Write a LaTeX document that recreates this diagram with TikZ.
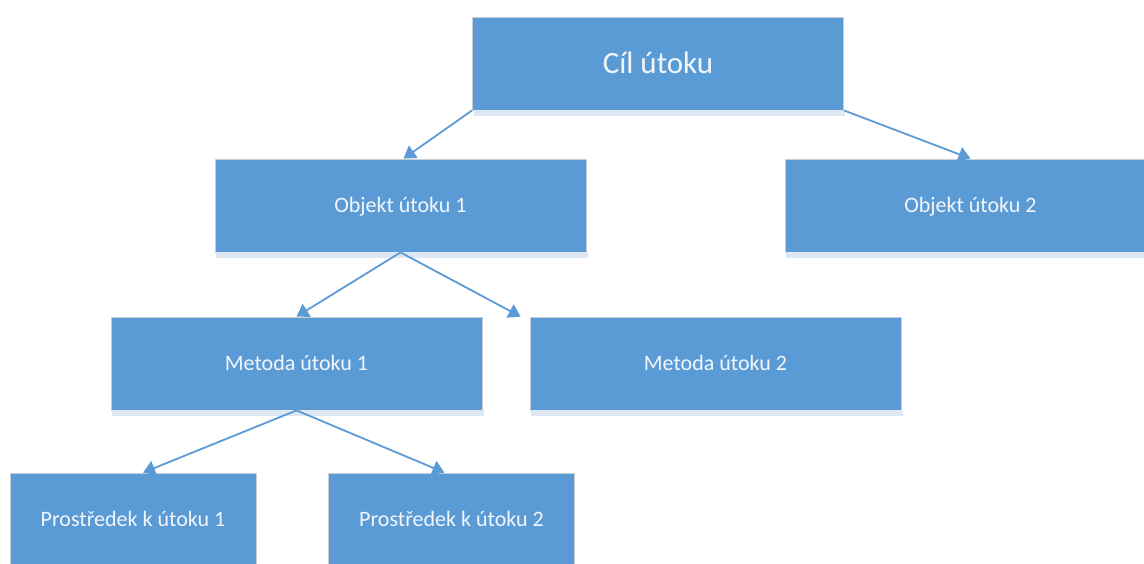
\documentclass[tikz,border=0pt]{standalone}
\usepackage{fontspec}
\setmainfont{Carlito}
\usetikzlibrary{arrows.meta,calc}
\definecolor{boxblue}{HTML}{5B9BD5}
\definecolor{boxedge}{HTML}{C9CED4}
\definecolor{boxshade}{HTML}{DDE8F4}
\definecolor{boxtext}{HTML}{F2F6FB}
\tikzset{
  box/.style={rectangle, fill=boxblue, draw=boxedge, line width=0.8pt,
    minimum height=93pt, inner sep=0pt, text=boxtext,
    font=\fontsize{22}{26}\selectfont, text height=14.2pt, text depth=0pt},
  wide/.style={box, minimum width=371pt},
  narrow/.style={box, minimum width=246pt},
  title/.style={font=\fontsize{31}{36}\selectfont, text height=20pt},
  link/.style={draw=boxblue, line width=1.8pt,
    -{Triangle[width=15pt,length=12pt]}}
}
\newcommand{\boxstrip}[1]{%
  \fill[boxshade] ($(#1.south west)+(1.5,0)$) rectangle ($(#1.south east)+(1.5,6)$);}
\begin{document}
\begin{tikzpicture}[x=1pt,y=-1pt]
  \useasboundingbox (0,0) rectangle (1144,563);
  \clip (0,0) rectangle (1144,563);

  % tree nodes
  \node[wide, title] (cil) at (658,63.5) {Cíl útoku};
  \node[wide]   (obj1) at (400.5,205.5) {Objekt útoku 1};
  \node[wide]   (obj2) at (970.5,205.5) {Objekt útoku 2};
  \node[wide]   (met1) at (296.5,363.5) {Metoda útoku 1};
  \node[wide]   (met2) at (715.5,363.5) {Metoda útoku 2};
  \node[narrow] (pro1) at (133,519.5)   {Prostředek k útoku 1};
  \node[narrow] (pro2) at (451.5,519.5) {Prostředek k útoku 2};

  % light strip under each box
  \foreach \n in {cil,obj1,obj2,met1,met2} {\boxstrip{\n}}

  % arrow targets on the child boxes
  \coordinate (t-obj1) at ($(obj1.north)+(3,0)$);
  \coordinate (t-obj2) at (obj2.north);
  \coordinate (t-met1) at (met1.north);
  \coordinate (t-met2) at ($(met2.north west)+(-9,0)$);
  \coordinate (t-pro1) at ($(pro1.north)+(10,0)$);
  \coordinate (t-pro2) at ($(pro2.north)+(-7,0)$);

  % connectors
  \draw[link] (cil.south west) -- (t-obj1);
  \draw[link] (cil.south east) -- (t-obj2);
  \draw[link] (obj1.south) -- (t-met1);
  \draw[link] (obj1.south) -- (t-met2);
  \draw[link] (met1.south) -- (t-pro1);
  \draw[link] (met1.south) -- (t-pro2);
\end{tikzpicture}
\end{document}
